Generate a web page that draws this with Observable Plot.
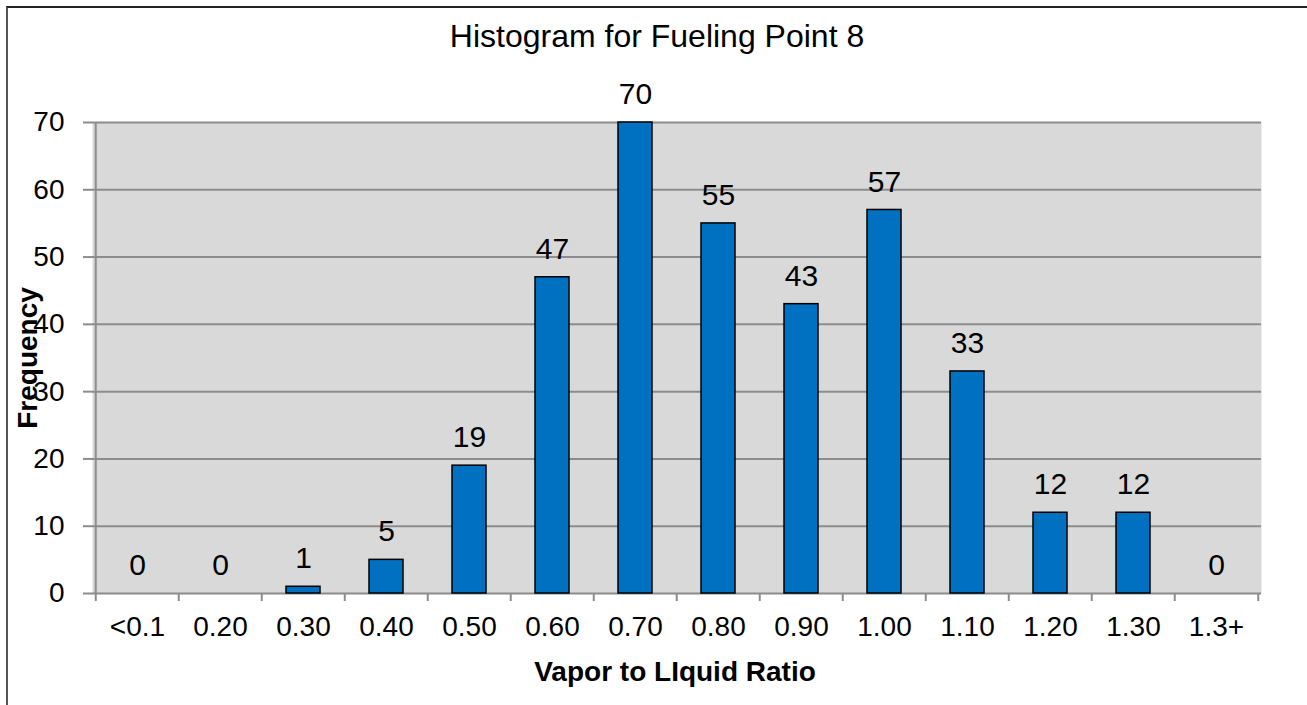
<!DOCTYPE html>
<html>
<head>
<meta charset="utf-8">
<script src="https://cdn.jsdelivr.net/npm/d3@7"></script>
<script src="https://cdn.jsdelivr.net/npm/@observablehq/plot@0.6"></script>
<style>
  html, body { margin: 0; padding: 0; background: #fff; }
  #wrap { position: relative; width: 1307px; height: 705px; overflow: hidden; }
  #border { position: absolute; left: 6px; top: 6px; width: 1400px; height: 800px;
            border-top: 2px solid #222; border-left: 2px solid #555; box-sizing: border-box; pointer-events: none; }
  svg { display: block; }
</style>
</head>
<body>
<div id="wrap"><div id="border"></div></div>
<script>
const categories = ["<0.1","0.20","0.30","0.40","0.50","0.60","0.70","0.80","0.90","1.00","1.10","1.20","1.30","1.3+"];
const frequencies = [0,0,1,5,19,47,70,55,43,57,33,12,12,0];
const yTicks = [0,10,20,30,40,50,60,70];
const titleText = "Histogram for Fueling Point 8";
const xLabel = "Vapor to LIquid Ratio";
const yLabel = "Frequency";

const data = categories.map((c, i) => ({cat: c, n: frequencies[i]}));

const W = 1307, H = 705, mL = 92, mR = 46, mT = 122, mB = 112;
const step = (W - mL - mR) / categories.length;
const grid = "#8c8c8c";

const chart = Plot.plot({
  width: W, height: H,
  marginLeft: mL, marginRight: mR, marginTop: mT, marginBottom: mB,
  style: {fontFamily: "'Liberation Sans', Arial, sans-serif", background: "transparent", color: "black"},
  x: {domain: categories, paddingInner: 0.593, paddingOuter: 0.2965, axis: null, label: null},
  y: {domain: [0, 70], axis: null, label: null},
  marks: [
    Plot.frame({fill: "#d9d9d9", stroke: "none"}),
    Plot.ruleY(yTicks, {stroke: grid, strokeWidth: 2}),
    Plot.ruleX([categories[0]], {dx: -step / 2, stroke: grid, strokeWidth: 2}),
    Plot.axisY({ticks: yTicks, label: null, tickSize: 9, tickPadding: 19, fontSize: 28, stroke: grid, strokeWidth: 2, fill: "black"}),
    Plot.axisX({label: null, tickSize: 8, dx: -step / 2, stroke: grid, strokeWidth: 2, fill: "none"}),
    Plot.axisX({ticks: [categories[categories.length - 1]], label: null, tickSize: 8, dx: step / 2, stroke: grid, strokeWidth: 2, fill: "none"}),
    Plot.axisX({label: null, tickSize: 0, tickPadding: 23, fontSize: 28, fill: "black"}),
    Plot.barY(data.filter(d => d.n > 0), {x: "cat", y: "n", fill: "#0070c0", stroke: "black", strokeWidth: 1.5}),
    Plot.text(data, {x: "cat", y: "n", text: d => String(d.n), dy: -28, fontSize: 30, fill: "black"}),
    Plot.text([titleText], {frameAnchor: "top", textAnchor: "middle", lineAnchor: "middle", dy: -86, dx: -20, fontSize: 32, fill: "black"}),
    Plot.text([xLabel], {frameAnchor: "bottom", textAnchor: "middle", lineAnchor: "middle", dy: 79, dx: -2, fontSize: 28, fontWeight: "bold", fill: "black"}),
    Plot.text([yLabel], {frameAnchor: "left", textAnchor: "middle", lineAnchor: "middle", dx: -64, rotate: -90, fontSize: 28, fontWeight: "bold", fill: "black"})
  ]
});
document.getElementById("wrap").prepend(chart);
</script>
</body>
</html>
